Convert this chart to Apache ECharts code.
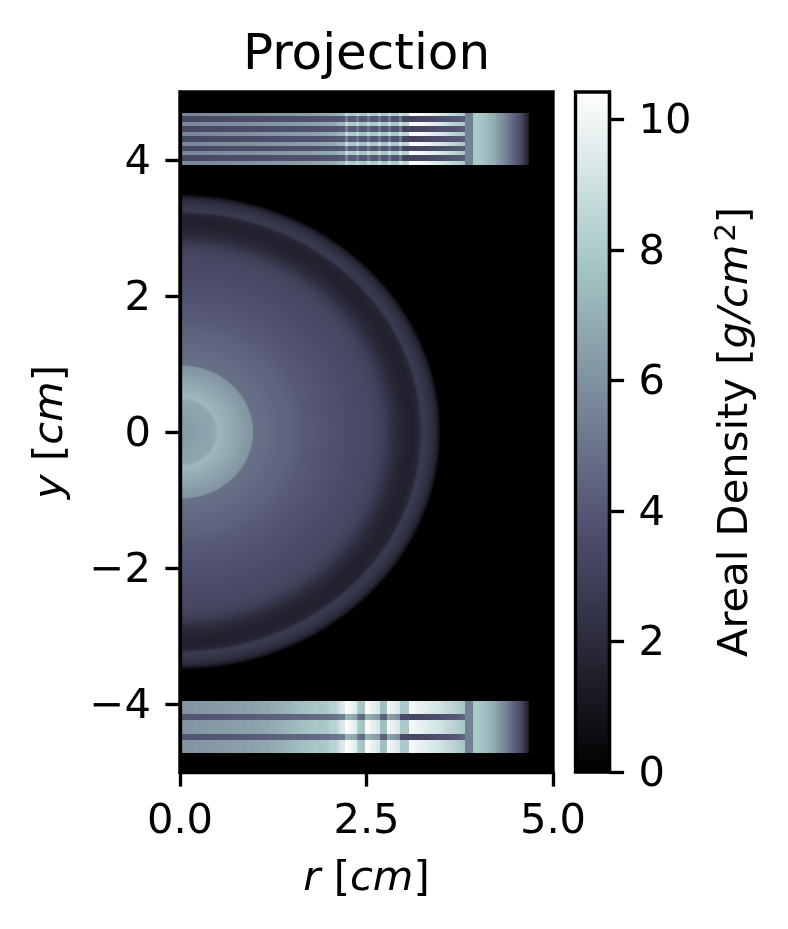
<!DOCTYPE html>
<html><head><meta charset="utf-8">
<style>html,body{margin:0;padding:0;background:#fff}#c{width:788px;height:929px}</style>
<script src="https://cdn.jsdelivr.net/npm/echarts@6/dist/echarts.min.js"></script>
</head><body><div id="c"></div>
<script>
// ---- values (cm and g/cm^2) ----
const xTicks = [0, 2.5, 5];
const yTicks = [-4, -2, 0, 2, 4];
const barTicks = [0, 2, 4, 6, 8, 10];
const densityMax = 10.42;
// radial profile of the projected sphere: outer radius of each ring, density of that ring
const ringRadius = [3.50,3.49,3.48,3.47,3.46,3.45,3.44,3.43,3.42,3.41,3.40,3.38,3.36,3.34,3.32,3.30,3.28,3.26,3.245,3.23,3.22,
 3.20,3.175,3.15,3.125,3.10,3.075,3.05,3.025,3.0,2.975,2.95,2.925,2.90,2.875,2.85,2.825,2.80,2.775,2.75,2.725,2.70,2.65,2.60,2.55,2.50,2.45,2.40,2.35,2.30,2.25,2.20,2.15,2.10,2.05,2.0,1.95,1.9,1.85,1.8,1.75,1.7,1.65,1.6,1.55,1.5,1.45,1.4,1.35,1.3,1.25,1.2,1.15,1.1,1.05,1.0,
 0.985,0.975,0.945,0.915,0.885,0.855,0.825,0.795,0.765,0.735,0.705,0.675,0.645,0.615,0.585,0.555,0.525,0.505,0.49,0.45,0.40,0.35,0.30,0.25,0.20,0.15,0.10,0.05];
const ringDensity = [0.15,0.5,0.85,1.15,1.35,1.55,1.7,1.85,1.97,2.07,2.15,2.28,2.4,2.5,2.58,2.63,2.65,2.65,2.6,2.3,1.9,
 1.75,1.65,1.6,1.58,1.58,1.6,1.62,1.66,1.72,1.79,1.87,1.96,2.06,2.18,2.32,2.47,2.62,2.76,2.88,2.98,3.07,3.2,3.3,3.35,3.4,3.45,3.5,3.53,3.56,3.6,3.65,3.7,3.75,3.78,3.82,3.87,3.92,3.97,4.02,4.07,4.12,4.19,4.26,4.33,4.4,4.45,4.5,4.55,4.6,4.65,4.7,4.75,4.8,4.85,4.9,
 5.5,6.1,6.18,6.26,6.34,6.42,6.5,6.58,6.66,6.74,6.82,6.9,6.98,7.06,7.14,7.22,7.3,7.2,6.7,6.65,6.6,6.55,6.5,6.45,6.4,6.37,6.35,6.33];
// top block
const topRowEdges = [4.69,4.65,4.56,4.50,4.41,4.35,4.26,4.21,4.13,4.07,3.99,3.93];
const topColEdges = [0,0.1,0.2,0.3,0.4,0.5,0.6,0.7,0.8,0.9,1.0,1.1,1.2,1.3,1.4,1.5,1.6,1.7,1.8,1.9,2.0,2.1,2.21,2.25,2.36,2.40,2.51,2.55,2.65,2.69,2.79,2.83,2.93,2.97,3.07,3.1075,3.145,3.1825,3.22,3.2575,3.295,3.3325,3.37,3.4075,3.445,3.4825,3.52,3.5575,3.595,3.6325,3.67,3.7075,3.745,3.7825,3.82];
const topLight = [5.7,5.7,5.7,5.75,5.8,5.8,5.85,5.9,5.95,6,6.05,6.1,6.15,6.2,6.3,6.4,6.45,6.5,6.6,6.7,6.8,7.3,
 8.6,7.9,8.5,7.8,8.6,8.0,8.7,7.9,8.8,8.0,9.0,8.4,
 10.3,10.25,10.2,10.1,10.0,9.95,9.85,9.75,9.6,9.5,9.35,9.2,9.05,8.9,8.75,8.55,8.4,8.2,8.05,7.9];
const topDark = [3.4,3.4,3.4,3.42,3.45,3.47,3.5,3.5,3.5,3.55,3.6,3.6,3.6,3.65,3.7,3.7,3.7,3.75,3.8,3.85,3.9,4.0,
 5.4,4.1,5.0,4.0,5.0,4.0,5.0,3.9,5.0,3.8,5.0,3.2,
 3.2,3.22,3.25,3.3,3.35,3.4,3.45,3.5,3.55,3.6,3.65,3.7,3.75,3.8,3.85,3.9,3.95,4.0,4.1,4.2];
// bottom block
const bottomRowEdges = [-3.96,-4.15,-4.24,-4.44,-4.53,-4.72];
const bottomColEdges = [0,0.1,0.2,0.3,0.4,0.5,0.6,0.7,0.8,0.9,1.0,1.1,1.2,1.3,1.4,1.5,1.6,1.7,1.8,1.9,2.0,2.1,2.15,2.21,2.25,2.29,2.33,2.37,2.40,2.48,2.53,2.58,2.63,2.68,2.77,2.82,2.87,2.91,2.95,3.07,3.1075,3.145,3.1825,3.22,3.2575,3.295,3.3325,3.37,3.4075,3.445,3.4825,3.52,3.5575,3.595,3.6325,3.67,3.7075,3.745,3.7825,3.82];
const bottomLight = [6.1,6.1,6.15,6.2,6.25,6.3,6.35,6.4,6.45,6.5,6.6,6.7,6.85,7.0,7.2,7.4,7.55,7.7,7.8,7.9,8.3,8.8,9.4,
 10.35,10.1,9.8,9.5,8.2,7.7,10.2,9.95,9.65,9.35,7.5,10.1,9.85,9.55,9.25,7.9,
 10.1,10,9.9,9.8,9.7,9.6,9.5,9.4,9.3,9.2,9.1,9,8.85,8.7,8.55,8.4,8.25,8.1,7.95,7.8];
const bottomDark = [3.9,3.9,3.9,3.95,4,4,4.05,4.1,4.15,4.2,4.25,4.3,4.35,4.4,4.45,4.5,4.55,4.6,4.7,4.8,4.95,5.1,5.3,
 7.1,6.95,6.75,6.55,5.2,4.6,7.0,6.8,6.55,6.3,4.3,6.55,6.35,6.05,5.8,3.5,
 3.4,3.4,3.4,3.42,3.45,3.5,3.5,3.55,3.6,3.65,3.7,3.75,3.8,3.85,3.9,3.95,4.0,4.1,4.25,4.45];
// right part, the same for every row of both blocks
const sideColEdges = [3.82,3.93,3.955,3.98,4.005,4.03,4.055,4.08,4.105,4.13,4.155,4.18,4.205,4.23,4.255,4.28,4.305,4.33,4.355,4.38,4.405,4.43,4.455,4.48,4.505,4.53,4.555,4.58,4.60,4.62,4.64,4.66,4.68];
const sideDensity = [5.4,7.9,7.9,7.85,7.8,7.7,7.6,7.5,7.35,7.2,7.05,6.9,6.7,6.5,6.3,6.1,5.9,5.7,5.5,5.25,5,4.75,4.5,4.25,4.0,3.75,3.35,3.0,2.65,2.25,1.8,1.3];

// ---- matplotlib "bone" colour map ----
const boneStops = [[0,[0,0,0]],[0.365079,[0.319444,0.319444,0.444444]],[0.746032,[0.652778,0.777778,0.777778]],[1,[1,1,1]]];
function bone(v){
  const t = Math.max(0, Math.min(1, v / densityMax));
  for (let i = 1; i < boneStops.length; i++) {
    if (t <= boneStops[i][0]) {
      const [a, ca] = boneStops[i-1], [b, cb] = boneStops[i], k = (t-a)/(b-a);
      return 'rgb(' + ca.map((c,j)=>Math.round((c+(cb[j]-c)*k)*255)).join(',') + ')';
    }
  }
  return '#fff';
}

// ---- tables ----
const ringData = ringRadius.map((r,i)=>[r, ringDensity[i]]);
const cellData = [];
function addBlock(rowEdges, colEdges, first, second){
  for (let i = 0; i + 1 < rowEdges.length; i++) {
    const vals = i % 2 === 0 ? first : second;
    for (let j = 0; j + 1 < colEdges.length; j++) cellData.push([colEdges[j], colEdges[j+1], rowEdges[i], rowEdges[i+1], vals[j]]);
  }
  for (let j = 0; j + 1 < sideColEdges.length; j++) cellData.push([sideColEdges[j], sideColEdges[j+1], rowEdges[0], rowEdges[rowEdges.length-1], sideDensity[j]]);
}
addBlock(topRowEdges, topColEdges, topLight, topDark);
addBlock(bottomRowEdges, bottomColEdges, bottomLight, bottomDark);

const FONT = 'DejaVu Sans', FS = 41.67, LW = 3.33, TICK = 14.6;
const italic = {fontStyle:'italic', fontFamily:FONT, fontSize:FS, color:'#000'};
const plain = {fontFamily:FONT, fontSize:FS, color:'#000'};
const shifted = {fontFamily:FONT, fontSize:FS, color:'#000', padding:[6,0,0,0]};
const fmtShifted = v => '{t|' + String(v).replace('-', '\u2212') + '}';

const chart = echarts.init(document.getElementById('c'), null, {renderer:'canvas', width:788, height:929});
chart.setOption({
  animation:false,
  backgroundColor:'#fff',
  title:{text:'Projection', left:361.5, top:26, textAlign:'center', textStyle:{fontFamily:FONT, fontSize:50, fontWeight:'normal', color:'#000'}},
  grid:[
    {left:180, top:92, width:373, height:680, show:true, backgroundColor:'#000', borderColor:'#000', borderWidth:LW},
    {left:575.5, top:92, width:34, height:680, show:true, backgroundColor:'transparent', borderColor:'transparent', borderWidth:0}
  ],
  xAxis:[
    {gridIndex:0, type:'value', min:0, max:5, z:10,
     name:'{i|r} [{i|cm}]', nameLocation:'middle', nameGap:86,
     nameTextStyle:{...plain, rich:{i:italic}},
     axisLine:{show:true, onZero:false, lineStyle:{color:'#000', width:LW}},
     axisTick:{show:true, length:TICK, lineStyle:{color:'#000', width:LW}, customValues:xTicks},
     axisLabel:{show:true, margin:29, fontFamily:FONT, fontSize:FS, color:'#000', customValues:xTicks, formatter:v=>v.toFixed(1), hideOverlap:false},
     splitLine:{show:false}},
    {gridIndex:1, type:'value', min:0, max:1, show:false}
  ],
  yAxis:[
    {gridIndex:0, type:'value', min:-5, max:5, z:10,
     name:'{i|y} [{i|cm}]', nameLocation:'middle', nameGap:108, nameRotate:90,
     nameTextStyle:{...plain, rich:{i:italic}},
     axisLine:{show:true, onZero:false, lineStyle:{color:'#000', width:LW}},
     axisTick:{show:true, length:TICK, lineStyle:{color:'#000', width:LW}, customValues:yTicks},
     axisLabel:{show:true, margin:29, fontFamily:FONT, fontSize:FS, color:'#000', customValues:yTicks, formatter:fmtShifted, rich:{t:shifted}},
     splitLine:{show:false}},
    {gridIndex:1, type:'value', min:0, max:densityMax, position:'right', z:10,
     name:'Areal Density [{i|g/cm}{s|2}]', nameLocation:'middle', nameGap:103, nameRotate:90,
     nameTextStyle:{...plain, rich:{i:italic, s:{fontFamily:FONT, fontStyle:'normal', fontSize:29, color:'#000', padding:[0,0,18,3]}}},
     axisLine:{show:true, onZero:false, lineStyle:{color:'#000', width:LW}},
     axisTick:{show:true, length:TICK, lineStyle:{color:'#000', width:LW}, customValues:barTicks},
     axisLabel:{show:true, margin:29, fontFamily:FONT, fontSize:FS, color:'#000', customValues:barTicks, formatter:fmtShifted, rich:{t:shifted}},
     splitLine:{show:false}}
  ],
  series:[
    {type:'custom', name:'sphere', xAxisIndex:0, yAxisIndex:0, coordinateSystem:'cartesian2d', silent:true, progressive:0, z:2,
     data:ringData, encode:{x:0, y:1},
     renderItem:(p, api)=>{
       const r = api.value(0), c = api.coord([0,0]), s = api.size([r,r]);
       return {type:'sector', z2:p.dataIndex, x:c[0], y:c[1], scaleY:s[1]/s[0],
         shape:{cx:0, cy:0, r:s[0], r0:0, startAngle:-Math.PI/2, endAngle:Math.PI/2, clockwise:true},
         style:{fill:bone(api.value(1))}};
     }},
    {type:'custom', name:'blocks', xAxisIndex:0, yAxisIndex:0, coordinateSystem:'cartesian2d', silent:true, progressive:0, z:3,
     data:cellData, encode:{x:[0,1], y:[2,3]},
     renderItem:(p, api)=>{
       const a = api.coord([api.value(0), api.value(2)]), b = api.coord([api.value(1), api.value(3)]);
       const x0 = Math.round(a[0]), x1 = Math.round(b[0]), y0 = Math.round(a[1]), y1 = Math.round(b[1]);
       return {type:'rect', shape:{x:x0, y:y0, width:x1-x0, height:y1-y0}, style:{fill:bone(api.value(4))}};
     }},
    {type:'custom', name:'colorbar', xAxisIndex:1, yAxisIndex:1, coordinateSystem:'cartesian2d', silent:true, z:3,
     data:[[0, 1, 0, densityMax]], encode:{x:[0,1], y:[2,3]},
     renderItem:(p, api)=>{
       const a = api.coord([api.value(0), api.value(3)]), b = api.coord([api.value(1), api.value(2)]);
       return {type:'rect', shape:{x:a[0], y:a[1], width:b[0]-a[0], height:b[1]-a[1]},
         style:{fill:new echarts.graphic.LinearGradient(0,1,0,0, boneStops.map(([o,c])=>({offset:o, color:'rgb('+c.map(q=>Math.round(q*255)).join(',')+')'}))), stroke:'#000', lineWidth:LW}};
     }}
  ]
});
</script></body></html>
